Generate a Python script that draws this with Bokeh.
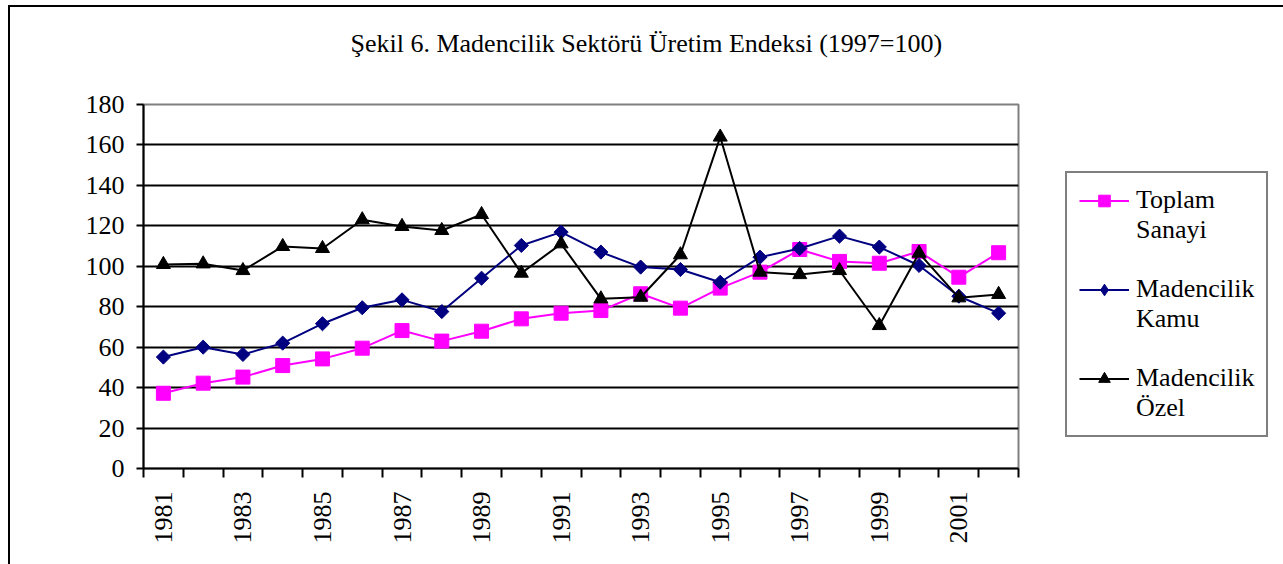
import numpy as np
from bokeh.plotting import figure
from bokeh.models import (ColumnDataSource, FixedTicker, Legend, LegendItem,
                          Range1d, Title)
from bokeh.embed import file_html
from bokeh.resources import INLINE

# ---- data ----
years = list(range(1981, 2003))
toplam_sanayi = [37.2, 42.2, 45.2, 50.9, 54.2, 59.5, 68.2, 63.0, 67.9, 74.0, 76.8,
                 78.1, 86.4, 79.3, 89.2, 97.1, 108.3, 102.4, 101.5, 107.3, 94.6, 106.7]
madencilik_kamu = [55.1, 60.0, 56.4, 62.0, 71.6, 79.5, 83.4, 77.6, 94.1, 110.3, 116.9,
                   107.0, 99.6, 98.4, 92.1, 104.5, 108.8, 114.9, 109.5, 100.4, 85.2, 76.8]
madencilik_ozel = [100.9, 101.2, 97.9, 109.8, 108.8, 123.0, 119.7, 117.7, 125.6, 96.6, 111.1,
                   83.9, 84.7, 105.7, 163.9, 97.1, 95.9, 97.9, 70.7, 106.5, 84.4, 86.1]
series_names = [("Toplam", "Sanayi"), ("Madencilik", "Kamu"), ("Madencilik", "Özel")]
y_ticks = [0, 20, 40, 60, 80, 100, 120, 140, 160, 180]
x_label_years = [1981, 1983, 1985, 1987, 1989, 1991, 1993, 1995, 1997, 1999, 2001]
title_text = "Şekil 6. Madencilik Sektörü Üretim Endeksi (1997=100)"

FONT = "Liberation Serif"
FS = "26px"

src = ColumnDataSource(dict(year=years, ts=toplam_sanayi, mk=madencilik_kamu, mo=madencilik_ozel))

p = figure(frame_width=875, frame_height=364,
           min_border_left=133, min_border_right=260,
           min_border_top=97, min_border_bottom=96,
           x_range=Range1d(1980.5, 2002.5), y_range=Range1d(0, 180),
           output_backend="svg", toolbar_location=None)
p.styles = {"border-left": "2px solid black", "border-top": "2px solid black",
            "border-right": "2px solid black",
            "margin-left": "8px", "margin-top": "5px"}
p.background_fill_color = "white"
p.border_fill_color = "white"
p.outline_line_color = "#808080"
p.outline_line_width = 2

# spacer between frame and title (empty title), then the real title above it
spacer = Title(text=" ", standoff=14, text_font=FONT, text_font_size=FS)
p.add_layout(spacer, "above")
t = Title(text=title_text, align="left", offset=207, standoff=0, vertical_align="top",
          text_font=FONT, text_font_size=FS, text_font_style="normal", text_color="black")
p.add_layout(t, "above")

# grid
p.xgrid.visible = False
p.ygrid.ticker = FixedTicker(ticks=y_ticks[1:-1])
p.ygrid.grid_line_color = "black"
p.ygrid.grid_line_width = 2

# y axis
ya = p.yaxis[0]
ya.ticker = FixedTicker(ticks=y_ticks)
ya.axis_line_color = "black"
ya.axis_line_width = 2
ya.major_tick_line_color = "black"
ya.major_tick_line_width = 2
ya.major_tick_out = 7
ya.major_tick_in = 0
ya.minor_tick_line_color = None
ya.major_label_text_font = FONT
ya.major_label_text_font_size = FS
ya.major_label_text_color = "black"
ya.major_label_standoff = 12

# x axis: labels at odd years, ticks at category boundaries (minor ticks)
xa = p.xaxis[0]
boundaries = [y - 0.5 for y in years] + [years[-1] + 0.5]
xa.ticker = FixedTicker(ticks=x_label_years, minor_ticks=boundaries)
xa.axis_line_color = "black"
xa.axis_line_width = 2
xa.major_tick_line_color = None
xa.major_tick_out = 9
xa.major_tick_in = 0
xa.minor_tick_line_color = "black"
xa.minor_tick_line_width = 2
xa.minor_tick_out = 9
xa.minor_tick_in = 0
xa.major_label_orientation = np.pi / 2
xa.major_label_text_font = FONT
xa.major_label_text_font_size = FS
xa.major_label_text_color = "black"
xa.major_label_standoff = 14

# series
l1 = p.line("year", "ts", source=src, line_color="#FF00FF", line_width=2)
m1 = p.scatter("year", "ts", source=src, marker="square", size=14,
               fill_color="#FF00FF", line_color="#FF00FF")
l2 = p.line("year", "mk", source=src, line_color="#000080", line_width=2)
m2 = p.scatter("year", "mk", source=src, marker="square", angle=np.pi / 4, size=10,
               fill_color="#000080", line_color="#000080")
l3 = p.line("year", "mo", source=src, line_color="black", line_width=2)
m3 = p.scatter("year", "mo", source=src, marker="triangle", size=14,
               fill_color="black", line_color="black")
# legend-only diamond glyph (not drawn in the plot)
m2_leg = p.scatter("year", "mk", source=src, marker="diamond", size=14,
                   fill_color="#000080", line_color="#000080", visible=False)

items = [
    LegendItem(label=series_names[0][0], renderers=[l1, m1]),
    LegendItem(label=series_names[0][1], renderers=[]),
    LegendItem(label=" ", renderers=[]),
    LegendItem(label=series_names[1][0], renderers=[l2, m2_leg]),
    LegendItem(label=series_names[1][1], renderers=[]),
    LegendItem(label=" ", renderers=[]),
    LegendItem(label=series_names[2][0], renderers=[l3, m3]),
    LegendItem(label=series_names[2][1], renderers=[]),
]
legend = Legend(items=items, location=(47, 31))
legend.border_line_color = "black"
legend.border_line_width = 2
legend.background_fill_color = "white"
legend.background_fill_alpha = 1
legend.label_text_font = FONT
legend.label_text_font_size = FS
legend.label_text_color = "black"
legend.glyph_width = 50
legend.glyph_height = 29
legend.label_height = 20
legend.label_standoff = 7
legend.padding = 12
legend.spacing = 0
p.add_layout(legend, "right")

open("out.html", "w").write(file_html(p, INLINE))
